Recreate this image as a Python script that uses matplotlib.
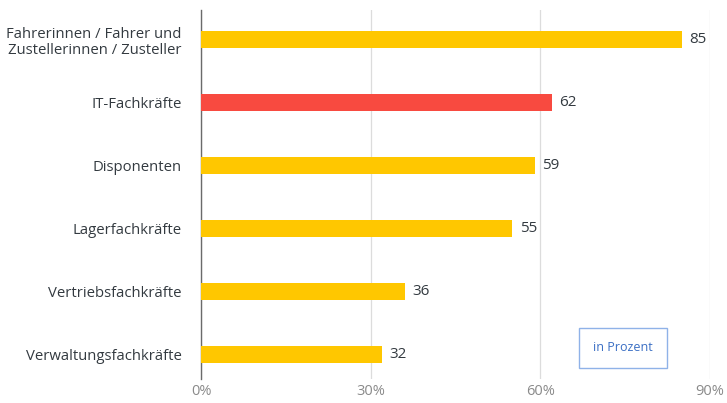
import matplotlib.pyplot as plt
import numpy as np

# ── Data ──────────────────────────────────────────────────────────────────────

categories = [
    "Fahrerinnen / Fahrer und\nZustellerinnen / Zusteller",
    "IT-Fachkräfte",
    "Disponenten",
    "Lagerfachkräfte",
    "Vertriebsfachkräfte",
    "Verwaltungsfachkräfte",
]
values = [85, 62, 59, 55, 36, 32]
highlight = "IT-Fachkräfte"

xticks = [0, 30, 60, 90]

# ── Style ─────────────────────────────────────────────────────────────────────

YELLOW = "#FFC700"
RED = "#F84A40"
TEXT = "#333a40"
GRID = "#dcdcdc"
AXIS = "#6b6b6b"
TICK = "#8a8a8a"
BLUE = "#3b6fc4"
BLUE_EDGE = "#8fb2e8"

plt.rcParams.update({
    "font.family": ["Open Sans", "DejaVu Sans"],
    "font.size": 10.5,
})

fig = plt.figure(figsize=(7.27, 4.03), dpi=100)
ax = fig.add_axes([0.2765, 0.06, 0.7, 0.915])

y = np.arange(len(categories))
colors = [RED if c == highlight else YELLOW for c in categories]
ax.barh(y, values, height=0.27, color=colors, zorder=3)

for yi, v in zip(y, values):
    ax.text(v + 1.4, yi, f"{v}", va="center", ha="left", color=TEXT, fontsize=11)

ax.set_xlim(0, 90)
ax.set_ylim(len(categories) - 1 + 0.38, -0.47)
ax.set_yticks(y)
ax.set_yticklabels(categories, color=TEXT, fontsize=10.7, linespacing=1.15)
ax.set_xticks(xticks)
ax.set_xticklabels([f"{t}%" for t in xticks], color=TICK, fontsize=10.5)
ax.tick_params(axis="both", length=0)
ax.tick_params(axis="y", pad=14)
ax.tick_params(axis="x", pad=4)

for s in ["top", "right", "bottom"]:
    ax.spines[s].set_visible(False)
ax.spines["left"].set_color(AXIS)
ax.spines["left"].set_linewidth(1.0)

ax.xaxis.grid(True, color=GRID, linewidth=0.9, zorder=0)
ax.set_axisbelow(True)

ax.text(0.829, 0.084, "in Prozent", transform=ax.transAxes, ha="center", va="center",
        color=BLUE, fontsize=9,
        bbox=dict(boxstyle="square,pad=1.1", facecolor="white", edgecolor=BLUE_EDGE,
                  linewidth=1.0))

fig.savefig("out.png", dpi=100)
